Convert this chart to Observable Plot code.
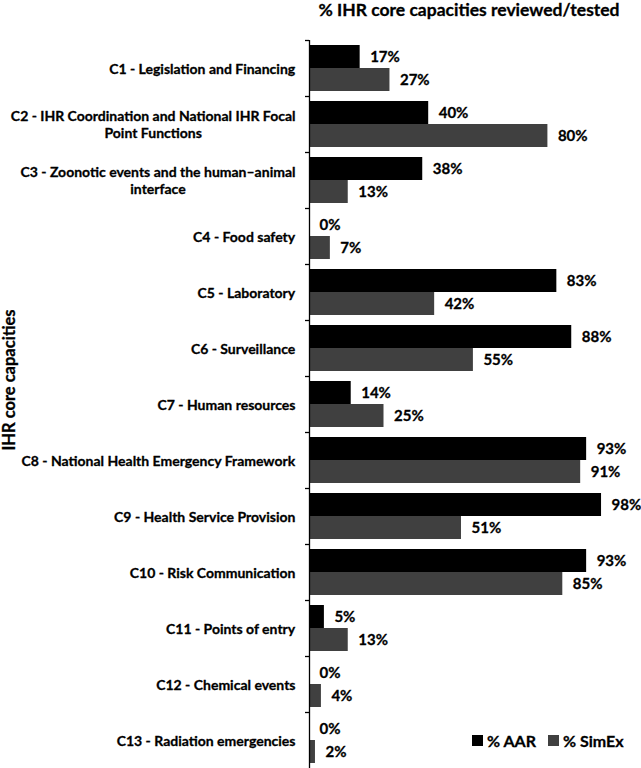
<!DOCTYPE html>
<html><head><meta charset="utf-8">
<script src="https://cdn.jsdelivr.net/npm/d3@7"></script>
<script src="https://cdn.jsdelivr.net/npm/@observablehq/plot@0.6"></script>
<style>
body{margin:0;background:#fff;font-family:Lato,sans-serif;}
#wrap{position:relative;width:641px;height:768px;overflow:hidden;}
#title{position:absolute;left:299px;width:340px;top:0px;text-align:center;font:bold 17.5px/20px Lato,sans-serif;color:#000;}
#ytitle{position:absolute;left:9px;top:380px;transform:translate(-50%,-50%) rotate(-90deg);white-space:nowrap;font:bold 16.5px/15px Lato,sans-serif;color:#000;}
#legend{position:absolute;left:472px;top:731px;display:flex;align-items:center;font:bold 16px Lato,sans-serif;color:#000;}
#legend .sw{display:inline-block;width:11px;height:11px;margin-right:4px;}
#legend .it{display:flex;align-items:center;margin-right:12px;}
.thick{-webkit-text-stroke:0.3px #000;}
</style></head><body>
<div id="wrap">
<div id="chart"></div>
<div id="title" class="thick">% IHR core capacities reviewed/tested</div>
<div id="ytitle" class="thick">IHR core capacities</div>
<div id="legend" class="thick"></div>
</div>
<script>
const categories = [
  "C1 - Legislation and Financing",
  "C2 - IHR Coordination and National IHR Focal\nPoint Functions",
  "C3 - Zoonotic events and the human–animal\ninterface",
  "C4 - Food safety",
  "C5 - Laboratory",
  "C6 - Surveillance",
  "C7 - Human resources",
  "C8 - National Health Emergency Framework",
  "C9 - Health Service Provision",
  "C10 - Risk Communication",
  "C11 - Points of entry",
  "C12 - Chemical events",
  "C13 - Radiation emergencies"
];
const aarValues = [17, 40, 38, 0, 83, 88, 14, 93, 98, 93, 5, 0, 0];
const simexValues = [27, 80, 13, 7, 42, 55, 25, 91, 51, 85, 13, 4, 2];
const seriesNames = ["% AAR", "% SimEx"];
const seriesColors = ["#000000", "#404040"];
const titleText = "% IHR core capacities reviewed/tested";
const yTitle = "IHR core capacities";

const aarRows = categories.map((c, i) => ({cat: c, series: seriesNames[0], value: aarValues[i]}));
const simRows = categories.map((c, i) => ({cat: c, series: seriesNames[1], value: simexValues[i]}));

const textStyle = {fill: "#000", stroke: "#000", strokeWidth: 0.3, fontWeight: "bold"};

const chart = Plot.plot({
  width: 641,
  height: 768,
  marginTop: 40,
  marginBottom: 0,
  marginLeft: 309,
  marginRight: 34,
  x: {domain: [0, 100], axis: null},
  y: {domain: categories, padding: 0, axis: null},
  color: {domain: seriesNames, range: seriesColors},
  style: {fontFamily: "Lato, sans-serif", fontSize: "14px", fontWeight: "bold", color: "#000", background: "transparent"},
  marks: [
    Plot.barX(aarRows, {x: "value", y: "cat", fill: "series", insetTop: 5, insetBottom: 28}),
    Plot.barX(simRows, {x: "value", y: "cat", fill: "series", insetTop: 28, insetBottom: 5}),
    Plot.text(aarRows, {x: "value", y: "cat", text: d => d.value + "%", dx: 10, dy: -11.5, textAnchor: "start", fontSize: 15, ...textStyle}),
    Plot.text(simRows, {x: "value", y: "cat", text: d => d.value + "%", dx: 10, dy: 11.5, textAnchor: "start", fontSize: 15, ...textStyle}),
    Plot.ruleX([0], {stroke: "#000", strokeWidth: 1.3}),
    Plot.axisY({tickSize: 4, tickFormat: () => "", dy: -28, stroke: "#000", strokeWidth: 1.3, label: null}),
    Plot.text(categories, {y: d => d, text: d => d, frameAnchor: "left", dx: -14, textAnchor: "middle", lineHeight: 17 / 14, fontSize: 14, className: "catlabel", ...textStyle})
  ]
});
document.getElementById("chart").appendChild(chart);

// right-align each label block while keeping its lines centred on one another
chart.querySelectorAll("g.catlabel text").forEach(t => {
  const w = t.getBBox().width;
  t.setAttribute("transform", (t.getAttribute("transform") || "") + ` translate(${-w / 2},0)`);
});

document.getElementById("title").textContent = titleText;
document.getElementById("ytitle").textContent = yTitle;
const legend = document.getElementById("legend");
seriesNames.forEach((s, i) => {
  const it = document.createElement("span");
  it.className = "it";
  const sw = document.createElement("span");
  sw.className = "sw";
  sw.style.background = seriesColors[i];
  it.appendChild(sw);
  it.appendChild(document.createTextNode(s));
  legend.appendChild(it);
});
</script>
</body></html>
